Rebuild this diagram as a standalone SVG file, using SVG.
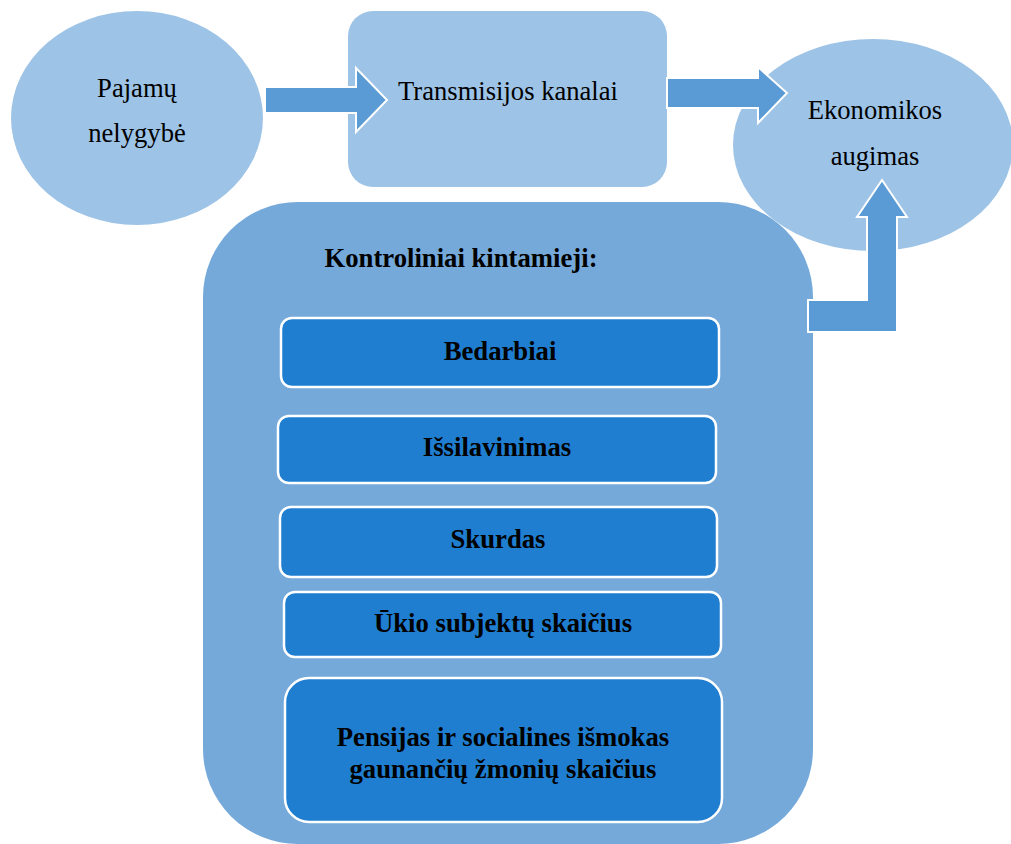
<svg xmlns="http://www.w3.org/2000/svg" width="1011" height="844" viewBox="0 0 1011 844">
<style>
.light{fill:#9DC3E6}
.arrow{fill:#5B9BD5;stroke:#fff;stroke-width:2;stroke-linejoin:miter}
.big{fill:#75A9DA}
.box{fill:#1F7ED0;stroke:#fff;stroke-width:2.5}
.t{font-family:"Liberation Serif",serif;font-size:26.6px;fill:#000;text-anchor:middle}
.b{font-family:"Liberation Serif",serif;font-size:26.7px;font-weight:bold;fill:#000;text-anchor:middle}
</style>
<rect width="1011" height="844" fill="#fff"/>
<g id="pajamu">
<ellipse class="light" cx="137" cy="118" rx="126" ry="107"/>
<text class="t" x="137" y="97">Pajamų</text>
<text class="t" x="137" y="142">nelygybė</text>
</g>
<g id="transmisijos">
<rect class="light" x="348" y="11" width="319" height="176" rx="25"/>
<text class="t" x="508" y="100">Transmisijos kanalai</text>
</g>
<g id="ekonomikos">
<ellipse class="light" cx="873" cy="145" rx="140" ry="106"/>
<text class="t" x="875" y="119">Ekonomikos</text>
<text class="t" x="875" y="165">augimas</text>
</g>
<g id="kontroliniai">
<rect class="big" x="203" y="202" width="610" height="642" rx="95"/>
<text class="b" x="461" y="267">Kontroliniai kintamieji:</text>
</g>
<g id="bedarbiai">
<rect class="box" x="281" y="318" width="438" height="69" rx="11"/>
<text class="b" x="500" y="360">Bedarbiai</text>
</g>
<g id="issilavinimas">
<rect class="box" x="278" y="416" width="438" height="67" rx="11"/>
<text class="b" x="497" y="456">Išsilavinimas</text>
</g>
<g id="skurdas">
<rect class="box" x="280" y="507" width="437" height="70" rx="11"/>
<text class="b" x="498" y="548">Skurdas</text>
</g>
<g id="ukio">
<rect class="box" x="284" y="592" width="437" height="65" rx="11"/>
<text class="b" x="503" y="632">Ūkio subjektų skaičius</text>
</g>
<g id="pensijas">
<rect class="box" x="285" y="678" width="437" height="144" rx="24"/>
<text class="b" x="503" y="746">Pensijas ir socialines išmokas</text>
<text class="b" x="503" y="778">gaunančių žmonių skaičius</text>
</g>
<g id="connectors">
<path class="arrow" d="M265,87 L356,87 L356,68 L387,100 L356,132 L356,113 L265,113 Z"/>
<path class="arrow" d="M667,78 L758,78 L758,67 L787,93 L758,123 L758,108 L667,108 Z"/>
<path class="arrow" d="M808,300 L867,300 L867,217 L857,217 L882,180 L907,217 L897,217 L897,332 L808,332 Z"/>
</g>
</svg>
